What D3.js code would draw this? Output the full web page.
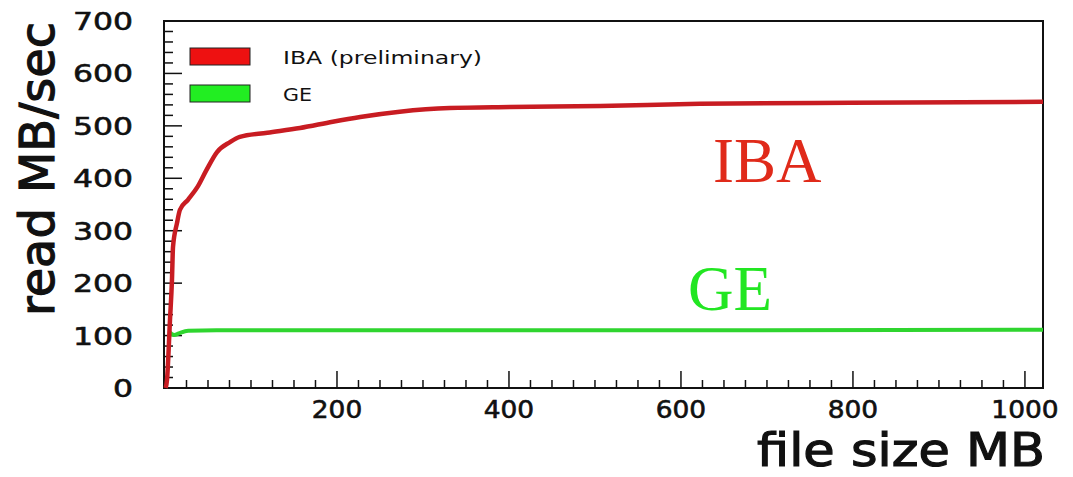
<!DOCTYPE html>
<html>
<head>
<meta charset="utf-8">
<script src="https://cdn.jsdelivr.net/npm/d3@7"></script>
<style>
  body { margin: 0; background: #fff; }
  svg { display: block; }
</style>
</head>
<body>
<div class="chart"></div>
<script>
// read rate (MB/sec) against file size (MB)
var ibaSize = [0.8, 2.3, 5.8, 8.1, 9.3, 14, 17.4, 26.7, 38, 48, 60.5, 75.6, 87, 119, 157, 195, 227, 273, 331, 401, 506, 622, 797, 1021];
var ibaRate = [0, 15, 130, 206, 269, 315, 340, 359, 384, 415, 450, 469, 479, 487, 496, 508, 517, 527, 534, 536, 538, 542, 544, 546];
var geSize = [5, 11, 16, 27, 60, 100, 300, 600, 1021];
var geRate = [107, 101, 104, 109, 110, 110, 110, 110, 111];
var xTickLabels = [200, 400, 600, 800, 1000];
var yTickLabels = [0, 100, 200, 300, 400, 500, 600, 700];
var legendNames = ["IBA (preliminary)", "GE"];

var width = 1073, height = 477;
var padL = 164, padR = 1043, padT = 21, padB = 388;

var x = d3.scaleLinear().domain([0, 1021]).range([padL + 1, padR]);
var y = d3.scaleLinear().domain([0, 700]).range([padB, padT]);

var svg = d3.select(".chart").append("svg")
    .attr("width", width)
    .attr("height", height);

// ticks, ROOT style: inside the frame
var yMinor = d3.range(0, 701, 20);
svg.selectAll(".ytick").data(yMinor).enter().append("line")
    .attr("x1", padL)
    .attr("x2", function(d) { return padL + (d % 100 == 0 ? 18 : 9); })
    .attr("y1", function(d) { return y(d); })
    .attr("y2", function(d) { return y(d); })
    .attr("stroke", "#111")
    .attr("stroke-width", 1.5);

var xMinor = d3.range(25, 1021, 25);
svg.selectAll(".xtick").data(xMinor).enter().append("line")
    .attr("x1", function(d) { return x(d); })
    .attr("x2", function(d) { return x(d); })
    .attr("y1", padB)
    .attr("y2", function(d) { return padB - (d % 200 == 0 ? 17 : 8); })
    .attr("stroke", "#111")
    .attr("stroke-width", 1.5);

// frame
svg.append("rect")
    .attr("x", padL)
    .attr("y", padT)
    .attr("width", padR - padL)
    .attr("height", padB - padT)
    .attr("fill", "none")
    .attr("stroke", "#111")
    .attr("stroke-width", 2);

// tick labels
svg.selectAll(".ylab").data(yTickLabels).enter().append("text")
    .attr("x", 133)
    .attr("y", function(d) { return y(d) + 9; })
    .attr("text-anchor", "end")
    .attr("font-family", "DejaVu Sans")
    .attr("font-size", 25)
    .attr("textLength", function(d) { return String(d).length * 20; })
    .attr("lengthAdjust", "spacingAndGlyphs")
    .attr("fill", "#111")
    .attr("stroke", "#111")
    .attr("stroke-width", 0.6)
    .text(function(d) { return d; });

svg.selectAll(".xlab").data(xTickLabels).enter().append("text")
    .attr("x", function(d) { return x(d); })
    .attr("y", 418)
    .attr("text-anchor", "middle")
    .attr("font-family", "DejaVu Sans")
    .attr("font-size", 24)
    .attr("textLength", function(d) { return String(d).length * 16.8; })
    .attr("lengthAdjust", "spacingAndGlyphs")
    .attr("fill", "#111")
    .attr("stroke", "#111")
    .attr("stroke-width", 0.6)
    .text(function(d) { return d; });

// axis titles
svg.append("text")
    .attr("x", 1045)
    .attr("y", 466)
    .attr("text-anchor", "end")
    .attr("font-family", "DejaVu Sans")
    .attr("font-size", 46)
    .attr("textLength", 288)
    .attr("lengthAdjust", "spacingAndGlyphs")
    .attr("fill", "#111")
    .attr("stroke", "#111")
    .attr("stroke-width", 1.2)
    .text("file size MB");

svg.append("text")
    .attr("transform", "translate(54,316) rotate(-90)")
    .attr("font-family", "DejaVu Sans")
    .attr("font-size", 48)
    .attr("textLength", 294)
    .attr("lengthAdjust", "spacingAndGlyphs")
    .attr("fill", "#111")
    .attr("stroke", "#111")
    .attr("stroke-width", 1.2)
    .text("read MB/sec");

// curves
var line = d3.line()
    .x(function(d) { return x(d[0]); })
    .y(function(d) { return y(d[1]); })
    .curve(d3.curveMonotoneX);

var ibaData = d3.zip(ibaSize, ibaRate);
var geData = d3.zip(geSize, geRate);

svg.append("path")
    .datum(geData)
    .attr("d", line)
    .attr("fill", "none")
    .attr("stroke", "#2fd52f")
    .attr("stroke-width", 4);

svg.append("path")
    .datum(ibaData)
    .attr("d", line)
    .attr("fill", "none")
    .attr("stroke", "#c81c22")
    .attr("stroke-width", 4.5);

// legend
var legendColors = ["#ee1111", "#22ee22"];
svg.selectAll(".lbox").data(legendNames).enter().append("rect")
    .attr("x", 190)
    .attr("y", function(d, i) { return 48 + i * 37; })
    .attr("width", 60)
    .attr("height", 17)
    .attr("fill", function(d, i) { return legendColors[i]; })
    .attr("stroke", "#222")
    .attr("stroke-width", 1);

svg.selectAll(".ltext").data(legendNames).enter().append("text")
    .attr("x", 283)
    .attr("y", function(d, i) { return 64 + i * 37; })
    .attr("font-family", "DejaVu Sans")
    .attr("font-size", 17)
    .attr("textLength", function(d, i) { return i == 0 ? 199 : 29; })
    .attr("lengthAdjust", "spacingAndGlyphs")
    .attr("fill", "#111")
    .text(function(d) { return d; });

// series names inside the plot
svg.append("text")
    .attr("x", 713)
    .attr("y", 182)
    .attr("font-family", "Liberation Serif")
    .attr("font-size", 63)
    .attr("fill", "#e02a1a")
    .text("IBA");

svg.append("text")
    .attr("x", 688)
    .attr("y", 310)
    .attr("font-family", "Liberation Serif")
    .attr("font-size", 63)
    .attr("fill", "#22e622")
    .text("GE");
</script>
</body>
</html>
